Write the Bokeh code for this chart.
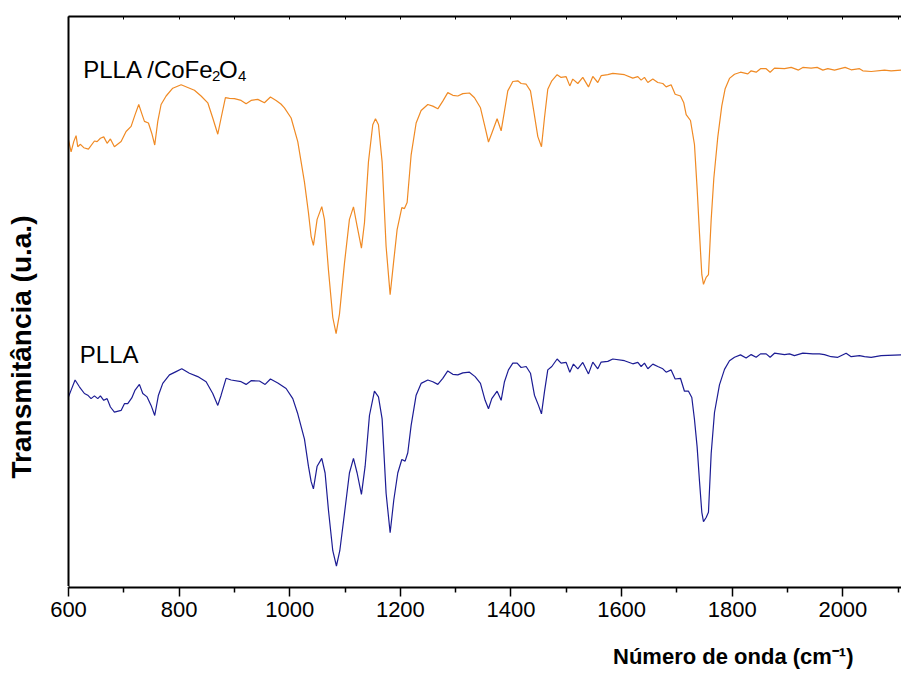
import math
from bokeh.plotting import figure
from bokeh.models import Range1d, LinearAxis, FixedTicker, Label, Title
from bokeh.embed import file_html
from bokeh.resources import INLINE

# ---- data (wavenumber cm-1, transmittance in arbitrary units) ----
wn_pllacfo = [600.0, 604.7, 609.5, 613.7, 616.7, 621.6, 627.6, 636.0, 646.9, 651.7, 657.7, 663.7,
              669.8, 675.8, 683.0, 695.1, 704.1, 713.2, 720.4, 727.0, 733.1, 737.3, 744.5, 750.5,
              755.9, 761.4, 767.4, 776.5, 788.5, 803.6, 815.6, 827.7, 839.7, 851.8, 860.8, 869.9,
              875.9, 883.7, 891.0, 900.0, 912.1, 921.1, 930.1, 942.2, 954.2, 965.1, 975.3, 984.0,
              990.4, 1002.5, 1014.5, 1026.6, 1033.8, 1038.6, 1042.8, 1049.5, 1057.9, 1062.7, 1070.0,
              1077.8, 1083.8, 1089.9, 1098.9, 1107.9, 1115.2, 1121.8, 1129.6, 1135.1, 1142.3, 1150.1,
              1155.0, 1160.4, 1167.0, 1174.2, 1181.5, 1187.5, 1194.1, 1202.6, 1207.4, 1212.2, 1219.4,
              1228.5, 1237.5, 1249.6, 1258.6, 1267.7, 1276.7, 1285.7, 1294.8, 1303.8, 1312.9, 1324.9,
              1334.0, 1344.8, 1352.0, 1359.3, 1365.3, 1374.9, 1382.2, 1388.2, 1394.2, 1403.3, 1412.3,
              1418.3, 1427.4, 1435.2, 1441.2, 1448.5, 1455.1, 1460.5, 1466.5, 1473.8, 1483.4, 1490.6,
              1499.7, 1506.3, 1511.7, 1520.8, 1529.8, 1540.1, 1547.9, 1556.9, 1563.0, 1575.0, 1584.1,
              1605.2, 1620.2, 1629.3, 1635.3, 1641.3, 1647.4, 1656.4, 1665.4, 1674.5, 1680.5, 1689.5,
              1696.8, 1706.4, 1712.4, 1716.7, 1724.5, 1731.7, 1736.5, 1740.8, 1745.0, 1748.0, 1752.8,
              1757.0, 1761.9, 1766.7, 1773.9, 1781.1, 1787.2, 1795.0, 1804.1, 1814.9, 1828.2, 1834.2,
              1843.2, 1851.1, 1861.3, 1868.5, 1876.4, 1894.5, 1906.5, 1919.8, 1927.6, 1942.7, 1953.5,
              1963.8, 1972.8, 1984.9, 2004.1, 2015.0, 2030.1, 2036.1, 2051.2, 2075.3, 2087.3, 2107.2]
t_pllacfo = [446.5, 434.7, 444.9, 450.9, 439.8, 442.2, 438.8, 437.4, 445.5, 444.9, 448.2, 449.6,
             443.2, 447.6, 439.8, 444.9, 455.0, 460.1, 471.9, 482.0, 471.9, 465.1, 463.5, 453.3,
             441.5, 465.1, 482.0, 490.5, 498.3, 501.7, 499.0, 496.2, 490.5, 483.7, 468.5, 452.3,
             468.5, 488.8, 488.1, 487.8, 486.1, 482.7, 486.1, 487.1, 483.7, 489.5, 486.1, 482.5,
             478.7, 468.5, 444.9, 404.3, 373.9, 350.2, 341.1, 367.1, 379.9, 367.1, 316.4,
             269.0, 252.8, 272.4, 323.1, 367.1, 379.6, 360.3, 338.4, 363.7, 424.6, 461.8,
             467.8, 461.8, 424.6, 340.0, 291.7, 323.1, 356.9, 378.9, 377.9, 384.0, 431.3,
             463.5, 476.0, 482.0, 480.4, 477.7, 485.4, 493.9, 491.2, 490.5, 492.9, 493.5,
             488.8, 478.7, 461.8, 444.5, 453.3, 467.8, 455.7, 475.3, 495.6, 505.0, 505.7,
             503.0, 502.3, 495.6, 475.3, 449.9, 439.8, 468.5, 497.3, 505.7, 511.8, 509.1,
             509.8, 500.6, 507.4, 503.0, 509.1, 499.6, 510.1, 504.0, 510.8, 511.8, 513.2,
             511.8, 508.4, 509.8, 506.4, 509.1, 504.0, 507.4, 504.0, 503.0, 499.6, 501.7,
             492.2, 490.5, 483.7, 471.9, 466.0, 442.0, 397.9, 353.1, 311.8, 302.2, 309.1,
             311.8, 366.9, 408.2, 449.6, 480.6, 497.8, 508.1, 512.2, 514.3, 512.6, 515.7,
             514.3, 517.8, 517.8, 514.3, 518.4, 517.8, 519.1, 516.4, 519.1, 518.4, 519.1,
             516.4, 517.8, 516.4, 519.1, 516.7, 517.8, 515.7, 515.0, 516.4, 515.7, 516.4]

wn_plla = [600.0, 604.7, 611.9, 619.7, 628.8, 634.8, 640.8, 646.9, 652.9, 657.7, 663.7, 669.8,
           675.8, 683.0, 695.1, 701.1, 707.1, 714.4, 720.4, 728.2, 734.3, 742.1, 749.3, 755.9,
           762.6, 770.4, 782.5, 794.5, 804.8, 818.6, 833.7, 848.8, 860.8, 869.9, 875.9, 884.9,
           894.0, 912.1, 921.1, 930.1, 945.2, 955.5, 965.1, 978.4, 993.4, 1005.5, 1014.5, 1026.6,
           1033.8, 1038.6, 1042.8, 1049.5, 1057.9, 1063.9, 1070.0, 1077.8, 1084.4, 1090.5, 1098.9,
           1107.9, 1115.2, 1121.8, 1129.6, 1136.3, 1144.1, 1153.1, 1160.4, 1167.0, 1174.2, 1181.5,
           1188.1, 1195.3, 1202.6, 1208.6, 1213.4, 1219.4, 1228.5, 1237.5, 1249.6, 1258.6, 1267.7,
           1276.7, 1285.7, 1294.8, 1303.8, 1312.9, 1324.9, 1335.1, 1344.8, 1353.2, 1359.3, 1365.3,
           1374.9, 1382.2, 1388.2, 1395.4, 1403.3, 1411.1, 1418.3, 1427.4, 1435.2, 1442.4, 1449.7,
           1455.1, 1460.5, 1466.5, 1473.8, 1483.4, 1490.6, 1499.7, 1506.3, 1512.9, 1520.8, 1529.8,
           1540.1, 1547.9, 1556.9, 1563.0, 1575.0, 1584.1, 1605.2, 1620.2, 1629.3, 1635.3, 1641.3,
           1647.4, 1656.4, 1665.4, 1674.5, 1680.5, 1689.5, 1696.8, 1706.4, 1713.6, 1720.9, 1726.9,
           1731.7, 1736.5, 1740.8, 1745.0, 1748.0, 1752.8, 1757.0, 1761.9, 1767.9, 1776.9, 1786.0,
           1795.0, 1804.1, 1814.9, 1825.1, 1834.2, 1843.2, 1851.1, 1861.3, 1868.5, 1876.4, 1894.5,
           1903.5, 1912.5, 1927.6, 1945.7, 1957.7, 1966.7, 1978.8, 1990.9, 2005.9, 2015.0, 2030.1,
           2039.1, 2051.2, 2069.2, 2107.2]
t_plla = [189.6, 196.4, 206.5, 199.7, 193.0, 191.3, 187.9, 190.6, 187.9, 190.6, 186.2, 187.9,
          179.5, 174.4, 176.1, 182.8, 182.8, 188.6, 196.4, 202.1, 193.0, 189.6, 181.1, 171.0,
          191.3, 203.1, 211.6, 214.9, 217.7, 213.3, 209.9, 204.8, 193.0, 181.1, 191.3, 208.2,
          206.5, 204.8, 202.1, 205.8, 205.5, 202.1, 207.5, 203.5, 198.0, 187.9, 172.7, 147.3,
          120.3, 105.1, 97.6, 120.3, 128.1, 113.5, 76.3, 35.8, 20.5, 35.8, 72.9,
          113.5, 128.1, 113.5, 92.2, 120.3, 171.0, 195.3, 189.6, 167.6, 93.2, 53.7,
          86.5, 113.5, 127.0, 125.4, 133.8, 160.9, 191.3, 203.1, 206.5, 204.8, 202.1,
          208.2, 215.6, 212.2, 211.6, 213.6, 214.3, 209.9, 203.1, 186.2, 177.8, 187.9,
          195.3, 186.2, 204.8, 216.6, 223.4, 223.4, 219.0, 220.0, 213.3, 191.3, 181.1,
          172.7, 194.7, 216.6, 220.0, 227.5, 223.4, 224.1, 214.3, 222.4, 217.7, 224.1,
          212.6, 224.4, 217.7, 224.4, 225.1, 227.5, 225.8, 222.7, 224.1, 220.0, 223.4,
          217.7, 222.4, 220.0, 217.7, 214.3, 216.6, 207.5, 208.2, 195.3, 195.3, 189.0,
          167.0, 139.6, 105.2, 74.2, 64.9, 69.0, 74.2, 132.7, 174.0, 201.6, 217.1,
          225.7, 229.2, 231.6, 228.5, 231.9, 229.2, 232.6, 232.6, 229.2, 233.3, 231.9,
          232.6, 230.9, 233.3, 232.6, 232.6, 231.9, 229.8, 229.2, 233.3, 229.8, 230.9,
          229.8, 229.2, 230.9, 231.6]

x_major_ticks = [600, 800, 1000, 1200, 1400, 1600, 1800, 2000]
x_minor_ticks = [700, 900, 1100, 1300, 1500, 1700, 1900, 2100]

series_names = ["PLLA /CoFe", "PLLA"]
x_label_text = "Número de onda (cm\u207b\u00b9)"
y_label_text = "Transmitância (u.a.)"

ORANGE = "#F08A24"
NAVY = "#1C1C94"
FONT = "Liberation Sans"

p = figure(width=901, height=673, output_backend="svg", toolbar_location=None,
           x_range=Range1d(600, 2106), y_range=Range1d(-1, 570),
           min_border_left=68, min_border_right=0, min_border_top=16, min_border_bottom=86)
p.background_fill_color = "white"
p.border_fill_color = "white"
p.outline_line_color = None
p.grid.visible = False

xa = p.xaxis[0]
xa.ticker = FixedTicker(ticks=x_major_ticks, minor_ticks=x_minor_ticks)
xa.axis_line_width = 2
xa.axis_line_color = "black"
xa.major_tick_out = 9
xa.major_tick_in = 0
xa.minor_tick_out = 5
xa.minor_tick_in = 0
xa.major_tick_line_width = 1.5
xa.minor_tick_line_width = 1.5
xa.major_tick_line_color = "black"
xa.minor_tick_line_color = "black"
xa.major_label_text_font = FONT
xa.major_label_text_font_size = "22px"
xa.major_label_text_color = "black"
xa.major_label_standoff = 5

# left axis: plain line; one white (invisible) tick reserves room so the title sits far left
ya = p.yaxis[0]
ya.ticker = FixedTicker(ticks=[0])
ya.axis_line_width = 2
ya.axis_line_color = "black"
ya.major_tick_line_color = "white"
ya.minor_tick_line_color = None
ya.major_tick_out = 32
ya.major_tick_in = 0
ya.minor_tick_out = 0
ya.major_label_standoff = 0
ya.major_label_text_font_size = "1px"
ya.major_label_text_color = None

top = LinearAxis(ticker=FixedTicker(ticks=x_major_ticks, minor_ticks=x_minor_ticks),
                 axis_line_width=2, axis_line_color="black",
                 major_tick_in=3, major_tick_out=0, minor_tick_in=3, minor_tick_out=0,
                 major_tick_line_color="black", minor_tick_line_color="black",
                 major_label_text_font_size="1px", major_label_text_color=None,
                 major_label_standoff=0)
p.add_layout(top, "above")

# blank band below the x axis (white tick at the far right) so the x title sits low
spacer = LinearAxis(ticker=FixedTicker(ticks=[2100]), axis_line_color=None,
                    major_tick_out=22, major_tick_in=0, minor_tick_out=0,
                    major_tick_line_color="white", minor_tick_line_color=None,
                    major_label_standoff=0, major_label_text_font_size="1px",
                    major_label_text_color=None)
p.add_layout(spacer, "below")

x_title = Title(text=x_label_text, align="right", offset=48, vertical_align="bottom",
                standoff=0, text_font=FONT, text_font_size="22px", text_font_style="bold",
                text_color="black")
p.add_layout(x_title, "below")

y_title = Title(text=y_label_text, align="left", offset=109, vertical_align="bottom",
                standoff=0, text_font=FONT, text_font_size="28px", text_font_style="bold",
                text_color="black")
p.add_layout(y_title, "left")

p.line(wn_pllacfo, t_pllacfo, line_color=ORANGE, line_width=1.2)
p.line(wn_plla, t_plla, line_color=NAVY, line_width=1.2)

def lab(x, y, text, size):
    p.add_layout(Label(x=x, y=y, text=text, text_font=FONT, text_font_size=size,
                       text_color="black", text_align="left", text_baseline="alphabetic"))

# series labels (with subscripts)
lab(626.6, 517, series_names[0], "24px")
lab(859.5, 511, "2", "15px")
lab(872.1, 517, "O", "24px")
lab(906.5, 511, "4", "15px")
lab(620.4, 232.3, series_names[1], "24px")

open("out.html", "w").write(file_html(p, INLINE))
